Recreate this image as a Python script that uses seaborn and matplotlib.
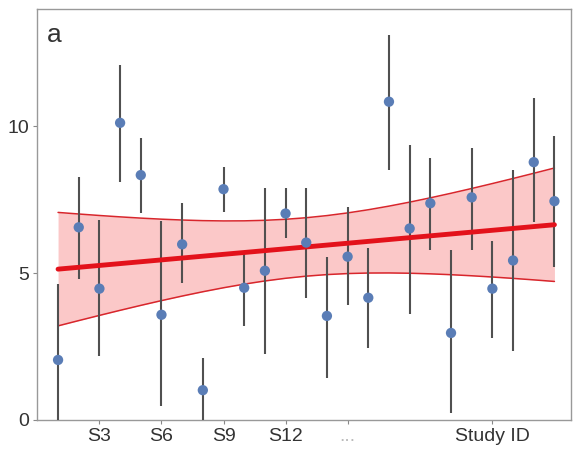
import numpy as np
import pandas as pd
import seaborn as sns
import matplotlib.pyplot as plt

# study estimates and their intervals
study = np.arange(1, 26)
effect = [2.04, 6.56, 4.47, 10.12, 8.34, 3.58, 5.98, 1.01, 7.86, 4.50, 5.08, 7.03, 6.04,
          3.54, 5.56, 4.16, 10.84, 6.52, 7.38, 2.96, 7.58, 4.47, 5.43, 8.78, 7.45]
ci_low = [0.0, 4.80, 2.17, 8.10, 7.04, 0.46, 4.67, 0.0, 7.07, 3.20, 2.24, 6.18, 4.16,
          1.42, 3.92, 2.45, 8.51, 3.61, 5.80, 0.22, 5.80, 2.79, 2.35, 6.73, 5.22]
ci_high = [4.64, 8.27, 6.80, 12.10, 9.60, 6.76, 7.38, 2.10, 8.61, 5.70, 7.89, 7.89, 7.89,
           5.56, 7.25, 5.84, 13.13, 9.37, 8.92, 5.77, 9.26, 6.11, 8.51, 10.97, 9.67]

tick_pos = [3, 6, 9, 12, 15, 22]
tick_labels = ["S3", "S6", "S9", "S12", "...", "Study ID"]

df = pd.DataFrame({"study": study, "effect": effect, "low": ci_low, "high": ci_high})

sns.set_style("white")
plt.rcParams['font.family'] = ['Liberation Sans', 'DejaVu Sans']

fig = plt.figure(figsize=(5.75, 4.49), dpi=100)
ax = fig.add_axes([0.065, 0.065, 0.928, 0.915])

# ordinary least squares fit with 95% confidence band
slope, icept = np.polyfit(df.study, df.effect, 1)
fitted = icept + slope * df.study
resid = df.effect - fitted
n = len(df)
s = np.sqrt(np.sum(resid ** 2) / (n - 2))
xbar = df.study.mean()
sxx = np.sum((df.study - xbar) ** 2)
t_val = 2.069
half = t_val * s * np.sqrt(1 / n + (df.study - xbar) ** 2 / sxx)

ax.fill_between(df.study, fitted - half, fitted + half, color="#fbc8c8", lw=0, zorder=1)
ax.plot(df.study, fitted + half, color="#d8262c", lw=1.1, zorder=2)
ax.plot(df.study, fitted - half, color="#d8262c", lw=1.1, zorder=2)

# error bars and points
ax.vlines(df.study, df.low, df.high, color="#505050", lw=1.5, zorder=3)
sns.lineplot(data=df, x="study", y=fitted, color="#e3121b", lw=3.5, ax=ax, zorder=4)
sns.scatterplot(data=df, x="study", y="effect", color="#5a7db6", s=55,
                edgecolor="none", ax=ax, zorder=5)

ax.set_xlim(0, 25.8)
ax.set_ylim(0, 14)
ax.set_yticks([0, 5, 10])
ax.set_xticks(tick_pos)
ax.set_xticklabels(tick_labels)
ax.set_xlabel("")
ax.set_ylabel("")
ax.tick_params(axis="both", direction="out", length=3, width=0.8, color="#888888",
               labelsize=14, labelcolor="#333333", pad=3, bottom=True, left=True)
ax.get_xticklabels()[4].set_color("#bbbbbb")
for sp in ax.spines.values():
    sp.set_color("#999999")
    sp.set_linewidth(1.0)

ax.text(0.018, 0.965, "a", transform=ax.transAxes, fontsize=19, color="#333333",
        va="top", ha="left")

fig.savefig("out.png", dpi=100)
